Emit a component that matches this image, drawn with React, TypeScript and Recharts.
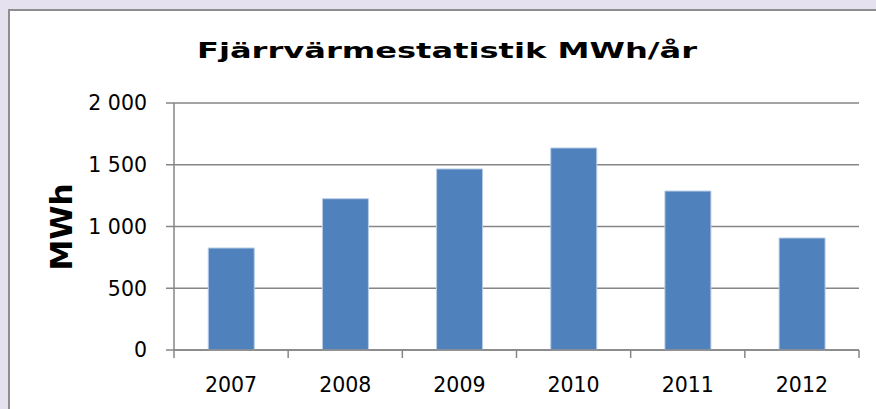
import React from 'react';
import { BarChart, Bar, XAxis, YAxis, CartesianGrid } from 'recharts';

const years = ['2007', '2008', '2009', '2010', '2011', '2012'];
const values = [826, 1225, 1466, 1636, 1287, 907];
const yTicks = [0, 500, 1000, 1500, 2000];
const titleText = 'Fjärrvärmestatistik MWh/år';
const yLabel = 'MWh';

const data = years.map((y, i) => ({ year: y, value: values[i] }));

const fmt = (v: number) => {
  const s = String(v);
  return s.length > 3 ? s.slice(0, s.length - 3) + ' ' + s.slice(s.length - 3) : s;
};

const GRID = '#868686';

const XTick = (props: any) => {
  const { x, y, payload, index, visibleTicksCount } = props;
  const off = payload && payload.offset ? payload.offset : 57;
  const last = index === (visibleTicksCount ?? years.length) - 1;
  return (
    <g>
      <line x1={x - off} x2={x - off} y1={y} y2={y + 8} stroke={GRID} strokeWidth={1.5} />
      {last && <line x1={x + off} x2={x + off} y1={y} y2={y + 8} stroke={GRID} strokeWidth={1.5} />}
      <text x={x} y={y + 42} textAnchor="middle" fontFamily="DejaVu Sans" fontSize={20.5} fill="#000">
        {payload.value}
      </text>
    </g>
  );
};

export default function App() {
  return (
    <div style={{ position: 'absolute', left: 0, top: 0, width: 876, height: 409, background: '#e6e1ee', overflow: 'hidden' }}>
      <div style={{ position: 'absolute', left: 8, top: 9, width: 900, height: 450, background: '#fff', border: '2px solid #8e8e8e', boxSizing: 'border-box' }} />
      <div style={{ position: 'absolute', left: 0, top: 0 }}>
        <BarChart width={876} height={409} data={data} margin={{ top: 103, right: 17, bottom: 0, left: 0 }} barCategoryGap="30%">
          <CartesianGrid vertical={false} stroke={GRID} strokeWidth={1.5} />
          <XAxis dataKey="year" height={59} axisLine={{ stroke: GRID, strokeWidth: 1.5 }} tickLine={false} tickSize={0} tickMargin={0} tick={<XTick />} interval={0} />
          <YAxis width={174} domain={[0, 2000]} ticks={yTicks} tickFormatter={fmt} tickSize={8} tickMargin={19}
            axisLine={{ stroke: GRID, strokeWidth: 1.5 }} tickLine={{ stroke: GRID, strokeWidth: 1.5 }}
            tick={{ fontFamily: 'DejaVu Sans', fontSize: 20.5, fill: '#000' }} interval={0} />
          <Bar dataKey="value" fill="#4f81bd" stroke="#b9cde5" strokeWidth={1} isAnimationActive={false} />
        </BarChart>
      </div>
      <svg width={876} height={409} style={{ position: 'absolute', left: 0, top: 0, pointerEvents: 'none' }}>
        <text x={197} y={58} fontFamily="DejaVu Sans" fontWeight="bold" fontSize={21} textLength={500} lengthAdjust="spacingAndGlyphs" fill="#000">
          {titleText}
        </text>
        <text x={72} y={227} transform="rotate(-90 72 227)" textAnchor="middle" fontFamily="DejaVu Sans" fontWeight="bold" fontSize={31} fill="#000">
          {yLabel}
        </text>
      </svg>
    </div>
  );
}
